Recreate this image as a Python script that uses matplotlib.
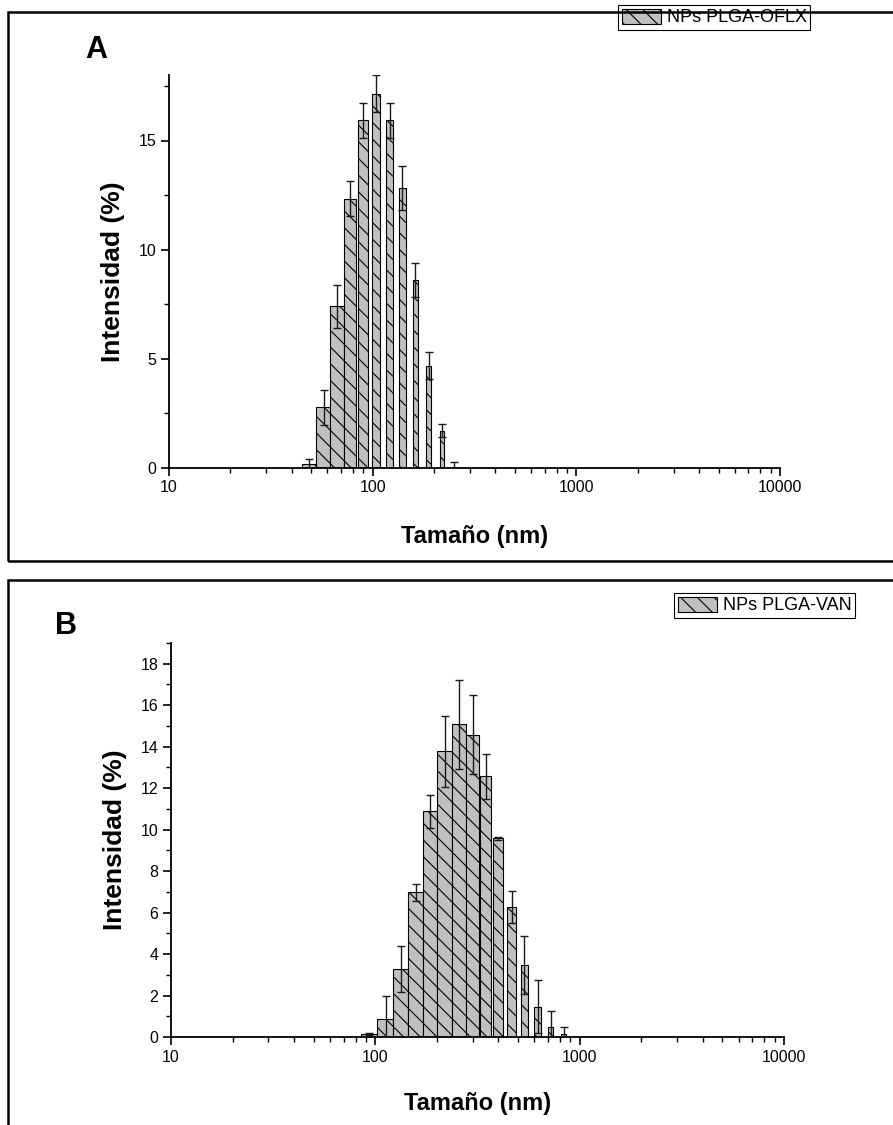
import numpy as np
import matplotlib
matplotlib.use("Agg")
import matplotlib.pyplot as plt
from matplotlib.patches import Patch, Rectangle
from matplotlib.ticker import MultipleLocator, AutoMinorLocator, LogLocator, FuncFormatter, NullFormatter

plt.rcParams['font.family'] = ['Liberation Sans', 'DejaVu Sans']
plt.rcParams['hatch.linewidth'] = 0.8

# panel A - NPs PLGA-OFLX
sizes_a = [48.7, 57.5, 67.0, 77.7, 89.6, 104.0, 121.0, 140.0, 162.0, 188.0, 218.0, 252.0]
int_a = [0.17, 2.78, 7.40, 12.33, 15.93, 17.14, 15.93, 12.83, 8.61, 4.69, 1.70, 0.06]
err_a = [0.23, 0.80, 1.00, 0.80, 0.80, 0.84, 0.80, 1.00, 0.80, 0.62, 0.30, 0.20]
label_a = "NPs PLGA-OFLX"

# panel B - NPs PLGA-VAN
sizes_b = [93.1, 112.4, 133.2, 157.8, 185.8, 218.2, 256.9, 299.2, 346.3, 400.0,
           464.0, 537.0, 622.0, 721.0, 836.0]
int_b = [0.16, 0.89, 3.27, 6.98, 10.89, 13.77, 15.07, 14.57, 12.58, 9.58,
         6.27, 3.46, 1.47, 0.47, 0.16]
err_b = [0.05, 1.08, 1.10, 0.40, 0.80, 1.72, 2.13, 1.90, 1.09, 0.08,
         0.78, 1.40, 1.30, 0.79, 0.31]
label_b = "NPs PLGA-VAN"

W, H = 893, 1125
fig = plt.figure(figsize=(W / 100, H / 100), dpi=100)

fill = '#c0c0c0'
hatch = '\\\\'


def bar_edges(x, w):
    # columns of constant linear width, clipped to their log bin
    x = np.asarray(x, float)
    lx = np.log10(x)
    mids = (lx[1:] + lx[:-1]) / 2
    lo = np.concatenate([[lx[0] - (lx[1] - lx[0]) / 2], mids])
    hi = np.concatenate([mids, [lx[-1] + (lx[-1] - lx[-2]) / 2]])
    left = np.maximum(x - w / 2, 10 ** lo)
    right = np.minimum(x + w / 2, 10 ** hi)
    return left, right - left


def panel(rect, sizes, vals, errs, colw, ymax, ymaj, label, leg_xy, letter, letter_xy, xlab_y):
    ax = fig.add_axes(rect)
    left, width = bar_edges(sizes, colw)
    ax.bar(left, vals, width=width, align='edge', color=fill, edgecolor='black',
           linewidth=0.8, hatch=hatch, zorder=2)
    ax.errorbar(sizes, vals, yerr=errs, fmt='none', ecolor='#1a1a1a', elinewidth=1.0,
                capsize=3, capthick=1.0, zorder=3)
    ax.set_xscale('log')
    ax.set_xlim(10, 10000)
    ax.set_ylim(0, ymax)
    ax.xaxis.set_major_locator(LogLocator(base=10))
    ax.xaxis.set_minor_locator(LogLocator(base=10, subs=np.arange(2, 10)))
    ax.xaxis.set_major_formatter(FuncFormatter(lambda v, p: '%d' % v))
    ax.xaxis.set_minor_formatter(NullFormatter())
    ax.yaxis.set_major_locator(MultipleLocator(ymaj))
    ax.yaxis.set_minor_locator(AutoMinorLocator(2))
    for s in ['top', 'right']:
        ax.spines[s].set_visible(False)
    for s in ['left', 'bottom']:
        ax.spines[s].set_linewidth(1.3)
    ax.tick_params(which='major', direction='out', length=6, width=1.2, labelsize=11.5, pad=3)
    ax.tick_params(which='minor', direction='out', length=3.5, width=1.0)
    ax.set_ylabel('Intensidad (%)', fontsize=19, fontweight='bold')
    ax.yaxis.set_label_coords(-0.072, 0.5)
    ax.set_xlabel('Tamaño (nm)', fontsize=17, fontweight='bold')
    ax.xaxis.set_label_coords(0.5, xlab_y)
    h = Patch(facecolor=fill, edgecolor='black', hatch=hatch, linewidth=0.8)
    leg = ax.legend(handles=[h], labels=[label], loc='upper left',
                    bbox_to_anchor=(leg_xy[0] / W, 1 - leg_xy[1] / H),
                    bbox_transform=fig.transFigure, frameon=True, fancybox=False,
                    edgecolor='black', framealpha=1, borderpad=0.2, handlelength=2.2,
                    handleheight=0.9, handletextpad=0.3, borderaxespad=0, fontsize=13)
    leg.get_frame().set_linewidth(0.8)
    fig.text(letter_xy[0] / W, 1 - letter_xy[1] / H, letter, fontsize=22,
             fontweight='bold', ha='center', va='center')
    return ax


panel([169 / W, 1 - 468 / H, 611 / W, 393 / H], sizes_a, int_a, err_a, 10.0, 18, 5,
      label_a, (618, 5), 'A', (96, 50), -0.145)
panel([171 / W, 1 - 1037 / H, 613 / W, 394 / H], sizes_b, int_b, err_b, 44.0, 19, 2,
      label_b, (674, 593), 'B', (66, 626), -0.14)

# panel frames
fig.add_artist(Rectangle((8 / W, 1 - 561 / H), 1.0, (561 - 11.7) / H, transform=fig.transFigure,
                         fill=False, edgecolor='black', linewidth=1.8))
fig.add_artist(Rectangle((8 / W, -0.1), 1.0, 0.1 + 1 - 580 / H, transform=fig.transFigure,
                         fill=False, edgecolor='black', linewidth=1.8))

fig.savefig('out.png', dpi=100)
